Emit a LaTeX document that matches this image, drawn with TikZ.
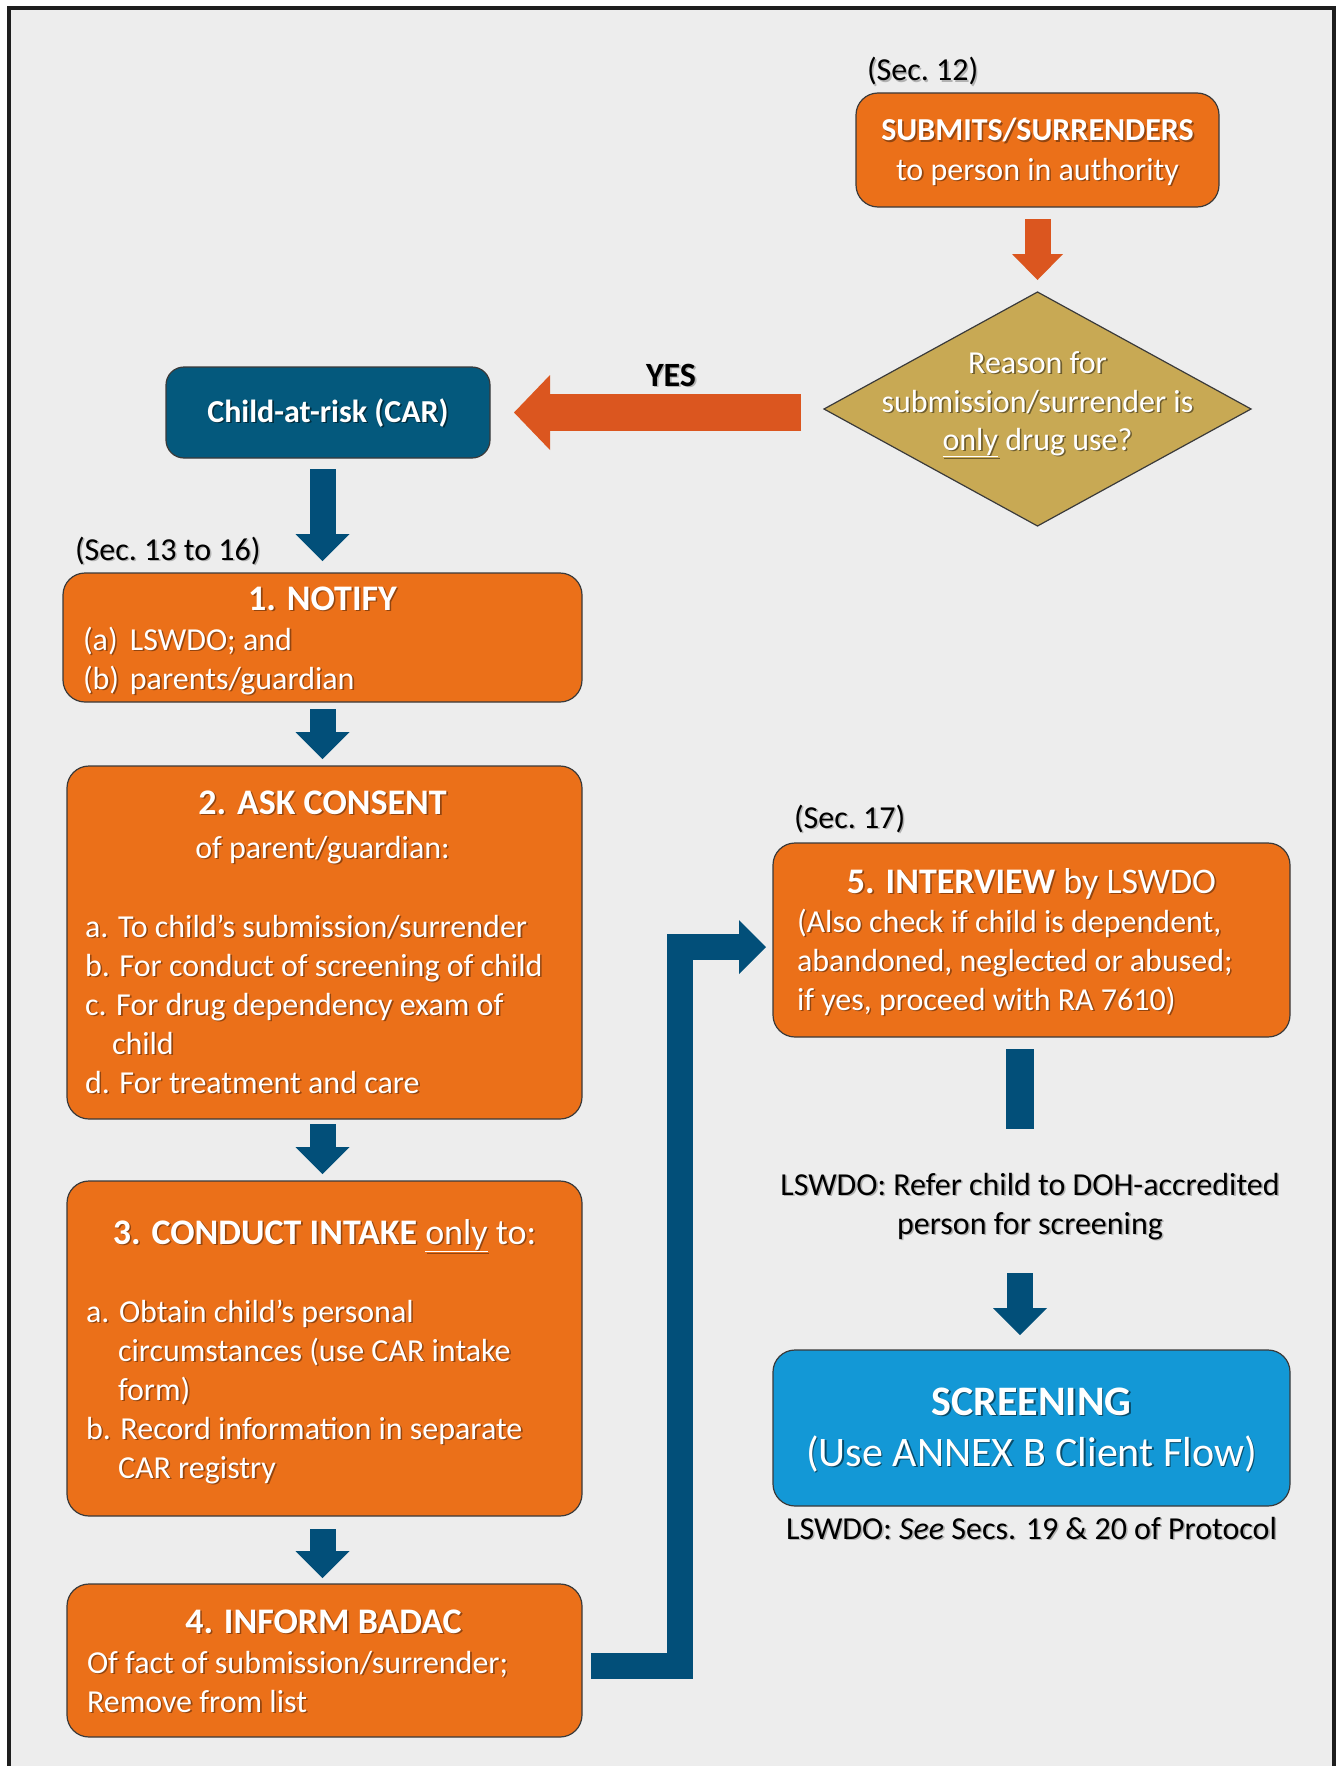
\documentclass[tikz,border=0pt]{standalone}
\usepackage{fontspec}
\setmainfont{Carlito}
\usetikzlibrary{arrows.meta,shapes.geometric,calc}

\definecolor{bgc}{HTML}{EDEDED}
\definecolor{framec}{HTML}{1E1E1E}
\definecolor{edgec}{HTML}{3A3A3A}
\definecolor{boxorange}{HTML}{EB7019}
\definecolor{arroworange}{HTML}{DB561F}
\definecolor{goldc}{HTML}{C8A954}
\definecolor{carblue}{HTML}{04597D}
\definecolor{arrowblue}{HTML}{024F79}
\definecolor{screenblue}{HTML}{1398D6}
\colorlet{tshcol}{black!35}

% soft drop shadow under a piece of text
\newcommand\tsh[1]{\leavevmode\rlap{\kern1.6pt\raisebox{-1.6pt}{\textcolor{tshcol}{#1}}}#1}

\begin{document}
\begin{tikzpicture}[x=1pt,y=-1pt,
  every node/.style={inner sep=0pt, outer sep=0pt},
  box/.style={draw=edgec, line width=1.2pt, rounded corners=22pt, fill=boxorange},
  on/.style={execute at begin node={\colorlet{tshcol}{#1}}},
  wt/.style={text=white, font=\fontsize{32}{39}\selectfont, on=boxorange!62!black},
  wtb/.style={wt, font=\fontsize{36}{40}\selectfont\bfseries},
  bk/.style={text=black, font=\fontsize{32}{39}\selectfont, on=black!30},
  barrow/.style={draw=arrowblue, line width=26pt,
    -{Triangle[width=54pt 0 0, length=27pt 0 0, line width=0pt 0 0]}},
  oarrow/.style={draw=arroworange, line width=26pt,
    -{Triangle[width=51pt 0 0, length=26pt 0 0, line width=0pt 0 0]}},
]
% page and frame
\useasboundingbox (0,0) rectangle (1336,1766);
\fill[white] (0,0) rectangle (1336,1766);
\fill[bgc] (9,8) rectangle (1334,1766);
\draw[framec, line width=3.2pt] (9,1766) -- (9,8) -- (1334,8) -- (1334,1766);

% boxes
\node[box, minimum width=363pt, minimum height=114pt] (sub) at (1037.5,150) {};
\node[draw=edgec, line width=1.2pt, fill=goldc, shape=diamond,
      minimum width=427pt, minimum height=234pt] (dia) at (1037.5,409) {};
\node[box, fill=carblue, rounded corners=18pt, minimum width=324pt, minimum height=91pt] (car) at (328,412.5) {};
\node[box, minimum width=519pt, minimum height=129pt] (n1) at (322.5,637.5) {};
\node[box, minimum width=515pt, minimum height=353pt] (n2) at (324.5,942.5) {};
\node[box, minimum width=515pt, minimum height=335pt] (n3) at (324.5,1348.5) {};
\node[box, minimum width=515pt, minimum height=153pt] (n4) at (324.5,1660.5) {};
\node[box, minimum width=517pt, minimum height=194pt] (n5) at (1031.5,940) {};
\node[box, fill=screenblue, minimum width=517pt, minimum height=156pt] (scr) at (1031.5,1428) {};

% texts: top branch
\node[bk, anchor=base west] (s12) at (867,81) {\tsh{(Sec.\ 12)}};
\node[wt, font=\fontsize{32}{39}\selectfont\bfseries, anchor=base] (subt1) at (1037.5,141) {\tsh{SUBMITS/SURRENDERS}};
\node[wt, anchor=base] (subt2) at (1037.5,180) {\tsh{to person in authority}};
\node[wt, on=goldc!55!black, anchor=base] (dt1) at (1037.5,373) {\tsh{Reason for}};
\node[wt, on=goldc!55!black, anchor=base] (dt2) at (1037.5,412) {\tsh{submission/surrender is}};
\node[wt, on=goldc!55!black, anchor=base] (dt3) at (1037.5,450) {\tsh{\underline{only} drug use?}};
\node[bk, font=\fontsize{34}{40}\selectfont\bfseries, anchor=base] (yes) at (671,386) {\tsh{YES}};
\node[wt, on=carblue!50!black, font=\fontsize{32}{39}\selectfont\bfseries, anchor=base] (cart) at (328,422) {\tsh{Child-at-risk (CAR)}};

% step 1
\node[bk, anchor=base west] (s13) at (75,560) {\tsh{(Sec.\ 13 to 16)}};
\node[wtb, anchor=base] (t1) at (322.5,610) {\tsh{1. NOTIFY}};
\node[wt, anchor=base west] (t1a) at (83,650) {\tsh{\makebox[47pt][l]{(a)}LSWDO; and}};
\node[wt, anchor=base west] (t1b) at (83,689) {\tsh{\makebox[47pt][l]{(b)}parents/guardian}};

% step 2
\node[wtb, anchor=base] (t2) at (322.5,814) {\tsh{2. ASK CONSENT}};
\node[wt, anchor=base] (t2s) at (322.5,858) {\tsh{of parent/guardian:}};
\node[wt, anchor=base west] (t2a) at (85,937) {\tsh{a. To child’s submission/surrender}};
\node[wt, anchor=base west] (t2b) at (85,976) {\tsh{b. For conduct of screening of child}};
\node[wt, anchor=base west] (t2c) at (85,1015) {\tsh{c. For drug dependency exam of}};
\node[wt, anchor=base west] (t2cc) at (112,1054) {\tsh{child}};
\node[wt, anchor=base west] (t2d) at (85,1093) {\tsh{d. For treatment and care}};

% step 3
\node[wt, font=\fontsize{36}{40}\selectfont, anchor=base] (t3) at (324.5,1244) {\tsh{\textbf{3. CONDUCT INTAKE} \underline{only} to:}};
\node[wt, anchor=base west] (t3a) at (86,1322) {\tsh{a. Obtain child’s personal}};
\node[wt, anchor=base west] (t3a2) at (118,1361) {\tsh{circumstances (use CAR intake}};
\node[wt, anchor=base west] (t3a3) at (118,1400) {\tsh{form)}};
\node[wt, anchor=base west] (t3b) at (86,1439) {\tsh{b. Record information in separate}};
\node[wt, anchor=base west] (t3b2) at (118,1478) {\tsh{CAR registry}};

% step 4
\node[wtb, anchor=base] (t4) at (323.5,1633) {\tsh{4. INFORM BADAC}};
\node[wt, anchor=base west] (t4a) at (87,1673) {\tsh{Of fact of submission/surrender;}};
\node[wt, anchor=base west] (t4b) at (87,1712) {\tsh{Remove from list}};

% step 5
\node[bk, anchor=base west] (s17) at (794,828) {\tsh{(Sec.\ 17)}};
\node[wt, font=\fontsize{36}{40}\selectfont, anchor=base] (t5) at (1031.5,893) {\tsh{\textbf{5. INTERVIEW} by LSWDO}};
\node[wt, anchor=base west] (t5a) at (797,932) {\tsh{(Also check if child is dependent,}};
\node[wt, anchor=base west] (t5b) at (797,971) {\tsh{abandoned, neglected or abused;}};
\node[wt, anchor=base west] (t5c) at (797,1010) {\tsh{if yes, proceed with RA 7610)}};

% referral and screening
\node[bk, anchor=base] (ref1) at (1030,1195) {\tsh{LSWDO: Refer child to DOH-accredited}};
\node[bk, anchor=base] (ref2) at (1030,1234) {\tsh{person for screening}};
\node[wt, on=screenblue!50!black, font=\fontsize{42}{48}\selectfont\bfseries, anchor=base] (ts1) at (1031.5,1415) {\tsh{SCREENING}};
\node[wt, on=screenblue!50!black, font=\fontsize{42}{48}\selectfont, anchor=base] (ts2) at (1031.5,1466) {\tsh{(Use ANNEX B Client Flow)}};
\node[bk, anchor=base] (see) at (1031.5,1539) {\tsh{LSWDO: \textit{See} Secs. 19 \& 20 of Protocol}};

% connectors
\coordinate (barend) at (1020,1129);
\draw[oarrow, shorten <=12pt, shorten >=12pt] (sub.south) -- (dia.north);
\draw[draw=arroworange, line width=37pt, shorten <=23pt, shorten >=24pt,
  -{Triangle[width=75pt 0 0, length=36pt 0 0, line width=0pt 0 0]}] (car.east -| dia.west) -- (car.east);
\draw[barrow, shorten <=11pt, shorten >=12pt] (car.south -| n1.north) -- (n1.north);
\draw[barrow, shorten <=7pt, shorten >=7pt] (n1.south) -- (n1.south |- n2.north);
\draw[barrow, shorten <=5pt, shorten >=7pt] (n1.south |- n2.south) -- (n1.south |- n3.north);
\draw[barrow, shorten <=13pt, shorten >=6pt] (n1.south |- n3.south) -- (n1.south |- n4.north);
\draw[barrow, line join=miter, shorten <=9pt, shorten >=7pt]
  ([yshift=-5pt]n4.east) -| ([xshift=-93pt, yshift=-7pt]n5.west) -- ([yshift=-7pt]n5.west);
\draw[draw=arrowblue, line width=28pt, shorten <=12pt] (n5.south -| barend) -- (barend);
\draw[barrow, shorten <=32pt, shorten >=15pt] (ref2.south -| barend) -- (scr.north -| barend);
\end{tikzpicture}
\end{document}
